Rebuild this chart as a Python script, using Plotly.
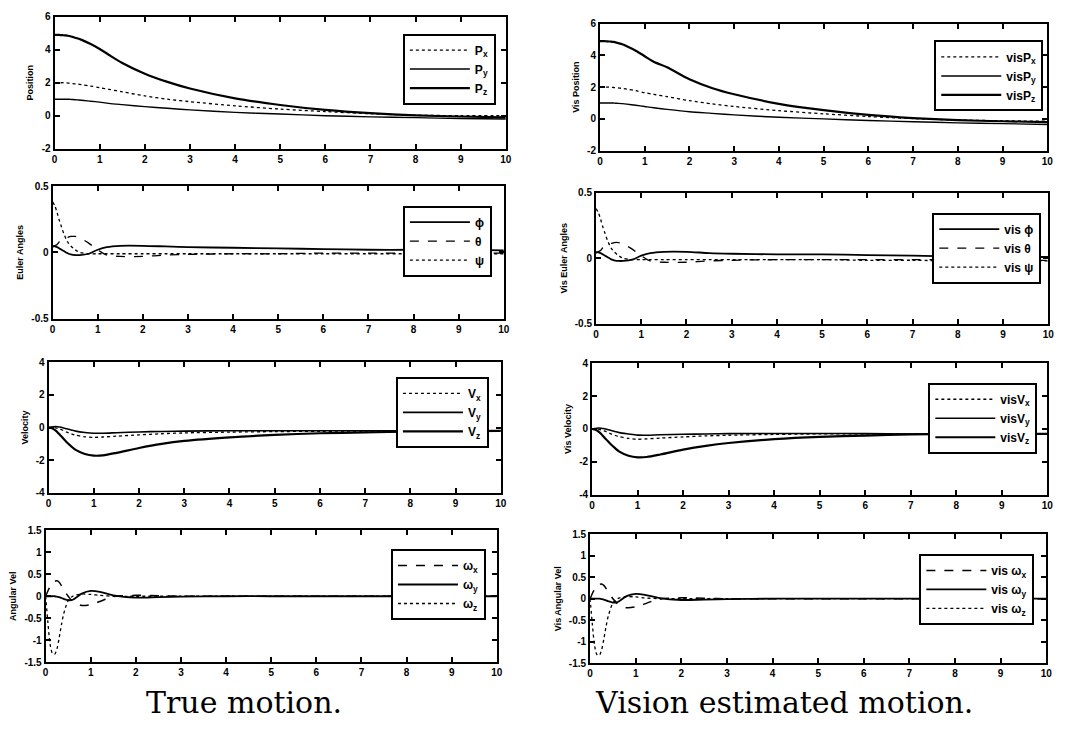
import plotly.graph_objects as go

W, H = 1083, 737

t = [0, 0.05, 0.1, 0.15, 0.2, 0.25, 0.3, 0.35, 0.4, 0.5, 0.6, 0.8, 1.0, 1.2, 1.5,
     2, 2.5, 3, 4, 5, 6, 7, 8, 9, 10]

# ---- True motion ----
pos_x = [2.0, 2.0, 2.0, 2.0, 2.0, 1.99, 1.98, 1.97, 1.95, 1.92, 1.88, 1.8, 1.7, 1.6, 1.45,
         1.2, 1.0, 0.85, 0.6, 0.4, 0.25, 0.12, 0.03, 0.0, 0.0]
pos_y = [1.0, 1.0, 1.0, 1.0, 1.0, 1.0, 1.0, 0.99, 0.98, 0.96, 0.94, 0.88, 0.82, 0.75, 0.67,
         0.55, 0.45, 0.35, 0.2, 0.1, 0.0, -0.07, -0.12, -0.17, -0.2]
pos_z = [4.9, 4.9, 4.9, 4.89, 4.88, 4.87, 4.85, 4.82, 4.78, 4.7, 4.6, 4.35, 4.05, 3.7, 3.2,
         2.55, 2.05, 1.65, 1.05, 0.65, 0.35, 0.15, 0.02, -0.05, -0.1]

eul_phi = [0.05, 0.045, 0.04, 0.03, 0.02, 0.01, 0.0, -0.01, -0.015, -0.02, -0.02, -0.01, 0.02, 0.04, 0.05,
           0.05, 0.045, 0.04, 0.035, 0.03, 0.025, 0.02, 0.02, 0.02, 0.015]
eul_theta = [0.04, 0.05, 0.06, 0.08, 0.09, 0.1, 0.11, 0.115, 0.12, 0.12, 0.11, 0.07, 0.02, -0.02, -0.03,
             -0.03, -0.02, -0.015, -0.01, -0.01, -0.005, -0.005, -0.005, -0.005, -0.005]
eul_psi = [0.38, 0.35, 0.3, 0.24, 0.19, 0.14, 0.1, 0.07, 0.05, 0.02, 0.0, -0.01, -0.01, -0.01, -0.01,
           -0.01, -0.01, -0.01, -0.01, -0.01, -0.01, -0.01, -0.01, -0.01, -0.01]

vel_x = [0, 0, 0, -0.02, -0.05, -0.1, -0.15, -0.22, -0.28, -0.38, -0.47, -0.57, -0.6, -0.58, -0.53,
         -0.45, -0.38, -0.33, -0.28, -0.25, -0.23, -0.22, -0.21, -0.2, -0.2]
vel_y = [0, 0.03, 0.05, 0.06, 0.05, 0.03, 0.0, -0.04, -0.08, -0.15, -0.22, -0.3, -0.35, -0.35, -0.32,
         -0.27, -0.24, -0.22, -0.2, -0.2, -0.2, -0.2, -0.2, -0.2, -0.2]
vel_z = [0, -0.02, -0.08, -0.18, -0.3, -0.45, -0.6, -0.75, -0.9, -1.15, -1.37, -1.62, -1.72, -1.7, -1.55,
         -1.25, -1.0, -0.82, -0.6, -0.45, -0.35, -0.3, -0.25, -0.22, -0.2]

ang_x = [0, 0.12, 0.22, 0.3, 0.34, 0.35, 0.32, 0.24, 0.15, 0.0, -0.12, -0.21, -0.19, -0.12, -0.01,
         0.02, 0.01, 0, 0, 0, 0, 0, 0, 0, 0]
ang_y = [0, 0, 0, 0, 0, -0.01, -0.02, -0.04, -0.06, -0.09, -0.08, 0.06, 0.12, 0.1, 0.02,
         -0.03, -0.02, -0.01, 0, 0, 0, 0, 0, 0, 0]
ang_z = [0, -0.6, -1.1, -1.3, -1.32, -1.2, -0.95, -0.65, -0.4, -0.1, 0.0, 0.05, 0.04, 0.02, 0.0,
         0, 0, 0, 0, 0, 0, 0, 0, 0, 0]

# ---- Vision estimated motion ----
vpos_x = [2.0, 2.0, 2.0, 2.0, 2.0, 1.99, 1.98, 1.97, 1.95, 1.92, 1.88, 1.78, 1.65, 1.55, 1.4,
          1.15, 0.95, 0.78, 0.52, 0.32, 0.15, 0.02, -0.07, -0.12, -0.15]
vpos_y = [1.0, 1.0, 1.0, 1.0, 1.0, 1.0, 1.0, 0.99, 0.98, 0.96, 0.93, 0.86, 0.78, 0.7, 0.6,
          0.45, 0.35, 0.25, 0.1, 0.0, -0.1, -0.18, -0.25, -0.3, -0.35]
vpos_z = [4.9, 4.9, 4.9, 4.89, 4.88, 4.87, 4.85, 4.82, 4.78, 4.7, 4.58, 4.3, 3.95, 3.6, 3.25,
          2.5, 1.95, 1.55, 0.95, 0.55, 0.25, 0.05, -0.08, -0.15, -0.2]

veul_phi = [0.05, 0.045, 0.04, 0.03, 0.02, 0.01, 0.0, -0.01, -0.015, -0.02, -0.02, -0.01, 0.02, 0.04, 0.05,
            0.05, 0.04, 0.035, 0.03, 0.03, 0.025, 0.02, 0.015, 0.01, 0.01]
veul_theta = [0.04, 0.05, 0.06, 0.08, 0.09, 0.1, 0.11, 0.115, 0.12, 0.12, 0.11, 0.07, 0.02, -0.02, -0.03,
              -0.03, -0.02, -0.015, -0.01, -0.01, -0.01, -0.01, -0.01, -0.015, -0.015]
veul_psi = [0.38, 0.35, 0.3, 0.24, 0.19, 0.14, 0.1, 0.07, 0.05, 0.02, 0.0, -0.01, -0.01, -0.01, -0.01,
            -0.01, -0.01, -0.01, -0.01, -0.01, -0.015, -0.015, -0.02, -0.02, -0.02]

vvel_x = [0, 0, 0, -0.02, -0.05, -0.1, -0.15, -0.22, -0.28, -0.38, -0.47, -0.57, -0.62, -0.6, -0.55,
          -0.48, -0.42, -0.38, -0.33, -0.3, -0.3, -0.3, -0.3, -0.3, -0.3]
vvel_y = [0, 0.03, 0.05, 0.06, 0.05, 0.03, 0.0, -0.04, -0.08, -0.15, -0.22, -0.3, -0.37, -0.38, -0.35,
          -0.32, -0.3, -0.28, -0.27, -0.27, -0.28, -0.3, -0.3, -0.3, -0.3]
vvel_z = [0, -0.02, -0.08, -0.18, -0.3, -0.45, -0.6, -0.75, -0.9, -1.15, -1.37, -1.62, -1.72, -1.7, -1.55,
          -1.25, -1.02, -0.85, -0.62, -0.48, -0.4, -0.33, -0.3, -0.3, -0.3]

vang_x = [0, 0.12, 0.22, 0.3, 0.33, 0.34, 0.31, 0.24, 0.15, 0.0, -0.12, -0.21, -0.19, -0.12, -0.01,
          0.02, 0.01, 0, 0, 0, 0, 0, 0, 0, 0]
vang_y = [0, 0, 0, 0, 0, -0.01, -0.02, -0.04, -0.06, -0.09, -0.08, 0.06, 0.11, 0.09, 0.02,
          -0.03, -0.02, -0.01, 0, 0, 0, 0, 0, 0, 0]
vang_z = [0, -0.6, -1.1, -1.3, -1.32, -1.2, -0.95, -0.65, -0.4, -0.1, 0.0, 0.05, 0.04, 0.02, 0.0,
          0, 0, 0, 0, 0, 0, 0, 0, 0, 0]

y_titles = ["Position", "Euler Angles", "Velocity", "Angular Vel",
            "Vis Position", "Vis Euler Angles", "Vis Velocity", "Vis Angular Vel"]
y_ranges = [[-2, 6], [-0.5, 0.5], [-4, 4], [-1.5, 1.5]] * 2
y_ticks = [[-2, 0, 2, 4, 6], [-0.5, 0, 0.5], [-4, -2, 0, 2, 4],
           [-1.5, -1, -0.5, 0, 0.5, 1, 1.5]] * 2
y_ticktext = [["-2", "0", "2", "4", "6"], ["-0.5", "0", "0.5"], ["-4", "-2", "0", "2", "4"],
              ["-1.5", "-1", "-0.5", "0", "0.5", "1", "1.5"]] * 2
x_ticks = list(range(0, 11))
captions = ["True motion.", "Vision estimated motion."]

panels = [
    [(pos_x, "P<sub>x</sub>", "dot", 1.3), (pos_y, "P<sub>y</sub>", "solid", 1.4), (pos_z, "P<sub>z</sub>", "solid", 2.2)],
    [(eul_phi, "\u03d5", "solid", 1.8), (eul_theta, "\u03b8", "dash", 1.3), (eul_psi, "\u03c8", "dot", 1.3)],
    [(vel_x, "V<sub>x</sub>", "dot", 1.3), (vel_y, "V<sub>y</sub>", "solid", 1.6), (vel_z, "V<sub>z</sub>", "solid", 2.2)],
    [(ang_x, "\u03c9<sub>x</sub>", "dash", 1.5), (ang_y, "\u03c9<sub>y</sub>", "solid", 1.8), (ang_z, "\u03c9<sub>z</sub>", "dot", 1.3)],
    [(vpos_x, "visP<sub>x</sub>", "dot", 1.3), (vpos_y, "visP<sub>y</sub>", "solid", 1.4), (vpos_z, "visP<sub>z</sub>", "solid", 2.2)],
    [(veul_phi, "vis \u03d5", "solid", 1.8), (veul_theta, "vis \u03b8", "dash", 1.3), (veul_psi, "vis \u03c8", "dot", 1.3)],
    [(vvel_x, "visV<sub>x</sub>", "dot", 1.3), (vvel_y, "visV<sub>y</sub>", "solid", 1.6), (vvel_z, "visV<sub>z</sub>", "solid", 2.2)],
    [(vang_x, "vis \u03c9<sub>x</sub>", "dash", 1.5), (vang_y, "vis \u03c9<sub>y</sub>", "solid", 1.8), (vang_z, "vis \u03c9<sub>z</sub>", "dot", 1.3)],
]

# plot-area pixel boxes (x0, x1, y0, y1) measured top-down
boxes = [
    (52, 507, 11, 145), (50, 505, 183, 318), (46, 502, 362, 495), (43, 498, 533, 667),
    (602, 1053, 18, 147), (598, 1054, 190, 323), (594, 1053, 363, 497), (592, 1052, 537, 668),
]
# legend boxes (x_right, y_top)
legend_pos = [(497, 28), (493, 203), (490, 377), (487, 552),
              (1049, 35), (1047, 210), (1043, 383), (1040, 557)]

fig = go.Figure()
layout = dict(width=W, height=H, margin=dict(l=0, r=0, t=0, b=0),
              paper_bgcolor="white", plot_bgcolor="white", showlegend=True)

tick_font = dict(family="Liberation Sans, Arial, sans-serif", size=10, color="black", weight="bold")

for i, (series, box) in enumerate(zip(panels, boxes)):
    n = i + 1
    xa = "x" if n == 1 else f"x{n}"
    ya = "y" if n == 1 else f"y{n}"
    lg = "legend" if n == 1 else f"legend{n}"
    for vals, name, dash, w in series:
        fig.add_trace(go.Scatter(
            x=t, y=vals, mode="lines", name=name,
            line=dict(color="black", dash=dash, width=w, shape="spline", smoothing=0.8),
            xaxis=xa, yaxis=ya, legend=lg))
    x0, x1, y0, y1 = box
    axis_common = dict(showline=True, linecolor="black", linewidth=2, mirror="ticks",
                       ticks="inside", ticklen=5, tickwidth=2, tickcolor="black",
                       showgrid=False, zeroline=False, tickfont=tick_font)
    layout["xaxis" if n == 1 else f"xaxis{n}"] = dict(
        domain=[x0 / W, x1 / W], anchor=ya, range=[0, 10],
        tickmode="array", tickvals=x_ticks, ticktext=[str(v) for v in x_ticks], **axis_common)
    layout["yaxis" if n == 1 else f"yaxis{n}"] = dict(
        domain=[1 - y1 / H, 1 - y0 / H], anchor=xa, range=y_ranges[i],
        tickmode="array", tickvals=y_ticks[i], ticktext=y_ticktext[i],
        title=dict(text=y_titles[i], standoff=6,
                   font=dict(family="Liberation Sans, Arial, sans-serif", size=9,
                             color="black", weight="bold")),
        **axis_common)
    lx, ly = legend_pos[i]
    layout[lg] = dict(x=lx / W, y=1 - ly / H, xanchor="right", yanchor="top",
                      xref="paper", yref="paper",
                      bordercolor="black", borderwidth=2, bgcolor="white",
                      itemwidth=60, tracegroupgap=0,
                      font=dict(family="Liberation Sans, Arial, sans-serif", size=12,
                                color="black", weight="bold"))

fig.update_layout(**layout)

for cx, txt in zip([243, 788], captions):
    fig.add_annotation(x=cx / W, y=1 - 708 / H, xref="paper", yref="paper",
                       xanchor="center", yanchor="middle",
                       text=txt, showarrow=False,
                       font=dict(family="DejaVu Serif, Liberation Serif, serif", size=30, color="black"))

fig.write_html("out.html", config={"displayModeBar": False},
               post_script="document.body.style.margin='0';document.body.style.padding='0';")
